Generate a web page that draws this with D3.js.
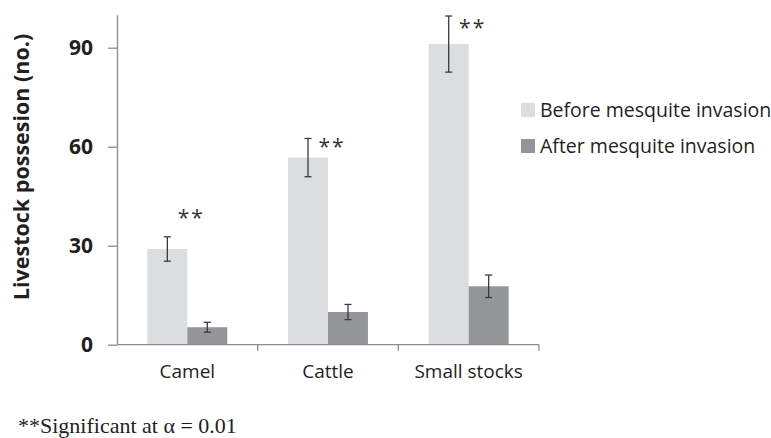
<!DOCTYPE html>
<html lang="en">

<head>
    <meta charset="UTF-8">
    <title>Livestock possession</title>
    <script src="https://cdn.jsdelivr.net/npm/d3@7"></script>
    <style>
        body { margin: 0; background: #fff; }
    </style>
</head>

<body>
    <svg></svg>
</body>
<script>
    // data
    const categories = ['Camel', 'Cattle', 'Small stocks'];
    const series = ['Before mesquite invasion', 'After mesquite invasion'];
    const before = [29.0, 56.7, 91.1];
    const beforeErr = [3.7, 5.8, 8.5];
    const after = [5.3, 9.9, 17.7];
    const afterErr = [1.5, 2.3, 3.4];
    const sigLabels = ['**', '**', '**'];
    const sigAt = [41, 62.5, 98.5]; // where the ** marks sit, in data units
    const yTicks = [0, 30, 60, 90];

    const width = 771, height = 438;
    const colors = ['#dcdddf', '#939598'];
    const axisColor = '#8c8c8c';
    const textColor = '#231f20';

    const rows = categories.map((c, i) => ({
        cat: c,
        vals: [
            { s: series[0], v: before[i], e: beforeErr[i] },
            { s: series[1], v: after[i], e: afterErr[i] }
        ]
    }));

    const svg = d3.select('svg')
        .attr('width', width)
        .attr('height', height)
        .style('font-family', '"Open Sans", sans-serif');

    const x0 = d3.scaleBand().domain(categories).range([117, 539]);
    const x1 = d3.scaleBand().domain(series).range([0, x0.bandwidth()]).paddingOuter(0.76);
    const y = d3.scaleLinear().domain([0, 100]).range([344.7, 14.7]);

    // bars
    const groups = svg.append('g')
        .selectAll('g')
        .data(rows)
        .join('g')
        .attr('transform', d => `translate(${x0(d.cat)},0)`);

    groups.selectAll('rect')
        .data(d => d.vals)
        .join('rect')
        .attr('x', d => x1(d.s))
        .attr('width', x1.bandwidth())
        .attr('y', d => y(d.v))
        .attr('height', d => y(0) - y(d.v))
        .attr('fill', (d, i) => colors[i]);

    // error bars
    const eb = groups.selectAll('.err')
        .data(d => d.vals)
        .join('g')
        .attr('class', 'err')
        .attr('stroke', '#3a3a3a')
        .attr('stroke-width', 1.3)
        .attr('transform', d => `translate(${x1(d.s) + x1.bandwidth() / 2},0)`);
    eb.append('line').attr('y1', d => y(d.v + d.e)).attr('y2', d => y(d.v - d.e));
    eb.append('line').attr('x1', -3.5).attr('x2', 3.5).attr('y1', d => y(d.v + d.e)).attr('y2', d => y(d.v + d.e));
    eb.append('line').attr('x1', -3.5).attr('x2', 3.5).attr('y1', d => y(d.v - d.e)).attr('y2', d => y(d.v - d.e));

    // significance marks
    svg.append('g')
        .selectAll('text')
        .data(categories)
        .join('text')
        .attr('x', (d, i) => x0(d) + x1(series[1]) + 4)
        .attr('y', (d, i) => y(sigAt[i]))
        .attr('dy', '0.75em')
        .attr('text-anchor', 'middle')
        .attr('font-size', 21)
        .attr('letter-spacing', 2)
        .attr('fill', '#333')
        .text((d, i) => sigLabels[i]);

    // y axis
    const yAxis = svg.append('g')
        .attr('transform', `translate(117,0)`)
        .call(d3.axisLeft(y).tickValues(yTicks).tickSize(9).tickSizeOuter(0).tickPadding(15));
    yAxis.select('.domain').attr('stroke', axisColor).attr('stroke-width', 1.3);
    yAxis.selectAll('.tick line').attr('stroke', axisColor).attr('stroke-width', 1.3);
    yAxis.selectAll('.tick text')
        .attr('font-size', 21)
        .attr('font-weight', 'bold')
        .attr('font-family', '"Open Sans", sans-serif')
        .attr('fill', textColor);

    // x axis: baseline, boundary ticks, labels
    svg.append('line')
        .attr('x1', x0.range()[0]).attr('x2', x0.range()[1])
        .attr('y1', y(0)).attr('y2', y(0))
        .attr('stroke', axisColor).attr('stroke-width', 1.3);
    const bounds = categories.map(c => x0(c) + x0.bandwidth());
    svg.append('g')
        .selectAll('line')
        .data(bounds)
        .join('line')
        .attr('x1', d => d).attr('x2', d => d)
        .attr('y1', y(0)).attr('y2', y(0) + 6)
        .attr('stroke', axisColor).attr('stroke-width', 1.3);
    svg.append('g')
        .selectAll('text')
        .data(categories)
        .join('text')
        .attr('x', d => x0(d) + x0.bandwidth() / 2)
        .attr('y', 378)
        .attr('text-anchor', 'middle')
        .attr('font-size', 19)
        .attr('fill', textColor)
        .text(d => d);

    // y axis title
    svg.append('text')
        .attr('transform', 'translate(29,167) rotate(-90)')
        .attr('text-anchor', 'middle')
        .attr('font-size', 21.5)
        .attr('font-weight', 'bold')
        .attr('fill', textColor)
        .text('Livestock possesion (no.)');

    // legend
    const legend = svg.append('g')
        .selectAll('g')
        .data(series)
        .join('g')
        .attr('transform', (d, i) => `translate(521,${103 + i * 36})`);
    legend.append('rect')
        .attr('width', 14).attr('height', 14)
        .attr('fill', (d, i) => colors[i]);
    legend.append('text')
        .attr('x', 19).attr('y', 7)
        .attr('dy', '0.36em')
        .attr('font-size', 19.5)
        .attr('fill', textColor)
        .text(d => d);

    // footnote
    svg.append('text')
        .attr('x', 18).attr('y', 433)
        .attr('font-family', '"Liberation Serif", "Times New Roman", serif')
        .attr('font-size', 22)
        .attr('fill', textColor)
        .text('**Significant at α = 0.01');
</script>

</html>
